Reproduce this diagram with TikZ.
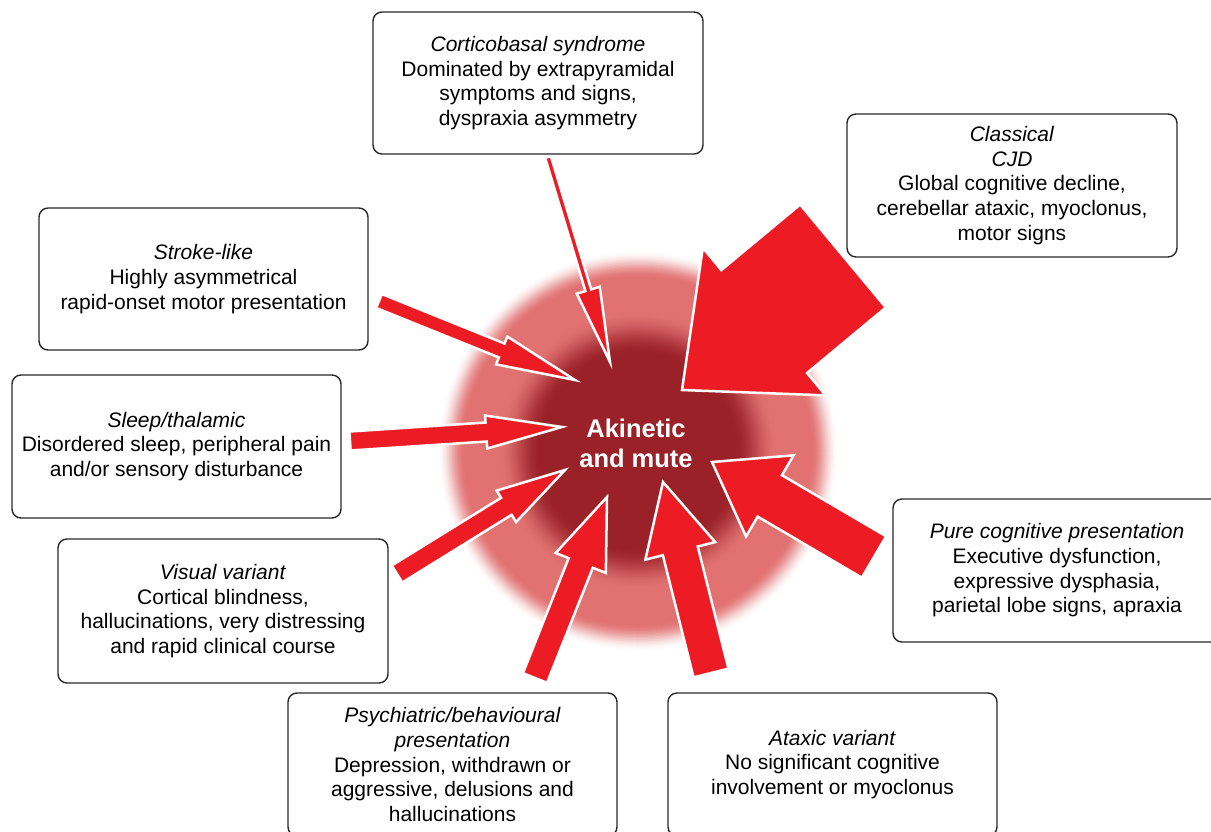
\documentclass[tikz,border=0pt]{standalone}
\usepackage{fontspec}
\setmainfont{Liberation Sans}
\usetikzlibrary{calc}
\definecolor{arrowred}{RGB}{237,28,36}
\definecolor{glowdark}{RGB}{154,33,40}
\definecolor{glowlight}{RGB}{226,114,114}
\definecolor{boxline}{RGB}{40,40,40}
% tail, tip, shaft half width, head half width, head length
\newcommand{\blockarrow}[5]{%
  \path ($(#2)!#5!(#1)$) coordinate (#1-j);
  \draw[blockarrowsty] ($(#1)!#3!90:(#2)$) -- ($(#1-j)!#3!90:(#2)$) -- ($(#1-j)!#4!90:(#2)$) -- (#2) -- ($(#1-j)!#4!-90:(#2)$) -- ($(#1-j)!#3!-90:(#2)$) -- ($(#1)!#3!-90:(#2)$) -- cycle;
}
\begin{document}
\begin{tikzpicture}[x=1pt, y=-1pt,
  box/.style={draw=boxline, line width=1.4pt, rounded corners=9pt, fill=white,
    align=center, inner sep=0pt, font=\fontsize{21}{24.7}\selectfont},
  blockarrowsty/.style={fill=arrowred, draw=white, line width=2.5pt, line join=miter},
  centretext/.style={text=white, align=center, font=\fontsize{25.5}{30}\selectfont\bfseries}]
\useasboundingbox (0,0) rectangle (1211,831);
\clip (0,0) rectangle (1211,831);
\fill[white] (0,0) rectangle (1211,831);
% glow made of concentric discs
\coordinate (glowc) at (638,451);
\foreach \r in {204,202.5,...,1} {
  \pgfmathsetmacro{\ta}{min(max((201-\r)/27,0),1)}
  \pgfmathsetmacro{\tb}{min(max((140-\r)/42,0),1)}
  \pgfmathsetmacro{\pa}{100*\ta*\ta*(3-2*\ta)}
  \pgfmathsetmacro{\pb}{100*\tb*\tb*(3-2*\tb)}
  \fill[glowdark!\pb!glowlight!\pa!white] (glowc) circle (\r pt);
}
\node[centretext] (centre) at (636,443) {Akinetic\\and mute};
% arrow end points
\coordinate (a1t) at (548,157); \coordinate (a1h) at (610,362);
\coordinate (a2t) at (379,301); \coordinate (a2h) at (575,380);
\coordinate (a3t) at (350,441); \coordinate (a3h) at (562,427);
\coordinate (a4t) at (397,574); \coordinate (a4h) at (565,470);
\coordinate (a5t) at (535,678); \coordinate (a5h) at (607,497);
\coordinate (a6t) at (711,673); \coordinate (a6h) at (663,482);
\coordinate (a7t) at (874,557); \coordinate (a7h) at (712,462);
\coordinate (a8t) at (843,256); \coordinate (a8h) at (682,390);
\blockarrow{a1t}{a1h}{3pt}{12pt}{75pt}
\blockarrow{a2t}{a2h}{7.5pt}{15pt}{79pt}
\blockarrow{a3t}{a3h}{9.5pt}{16.5pt}{76pt}
\blockarrow{a4t}{a4h}{10pt}{18.5pt}{69pt}
\blockarrow{a5t}{a5h}{13pt}{27pt}{71pt}
\blockarrow{a6t}{a6h}{18pt}{36pt}{71pt}
\blockarrow{a7t}{a7h}{24pt}{47pt}{67pt}
\blockarrow{a8t}{a8h}{67pt}{96pt}{107pt}
% boxes
\node[box, minimum width=330pt, minimum height=142pt] (cortico) at (538,83)
  {\textit{Corticobasal syndrome}\\Dominated by extrapyramidal\\symptoms and signs,\\dyspraxia asymmetry};
\node[box, minimum width=330pt, minimum height=143pt] (classical) at (1012,185.5)
  {\textit{Classical}\\\textit{CJD}\\Global cognitive decline,\\cerebellar ataxic, myoclonus,\\motor signs};
\node[box, minimum width=329pt, minimum height=142pt] (stroke) at (203.5,279)
  {\textit{Stroke-like}\\Highly asymmetrical\\rapid-onset motor presentation};
\node[box, minimum width=329pt, minimum height=143pt] (sleep) at (176.5,446.5)
  {\textit{Sleep/thalamic}\\Disordered sleep, peripheral pain\\and/or sensory disturbance};
\node[box, minimum width=330pt, minimum height=144pt] (visual) at (223,611)
  {\textit{Visual variant}\\Cortical blindness,\\hallucinations, very distressing\\and rapid clinical course};
\node[box, minimum width=328pt, minimum height=143pt] (pure) at (1057,570.5)
  {\textit{Pure cognitive presentation}\\Executive dysfunction,\\expressive dysphasia,\\parietal lobe signs, apraxia};
\node[box, minimum width=329pt, minimum height=143pt] (psych) at (452.5,764.5)
  {\textit{Psychiatric/behavioural}\\\textit{presentation}\\Depression, withdrawn or\\aggressive, delusions and\\hallucinations};
\node[box, minimum width=329pt, minimum height=143pt] (ataxic) at (832.5,764.5)
  {\textit{Ataxic variant}\\No significant cognitive\\involvement or myoclonus};
\end{tikzpicture}
\end{document}
